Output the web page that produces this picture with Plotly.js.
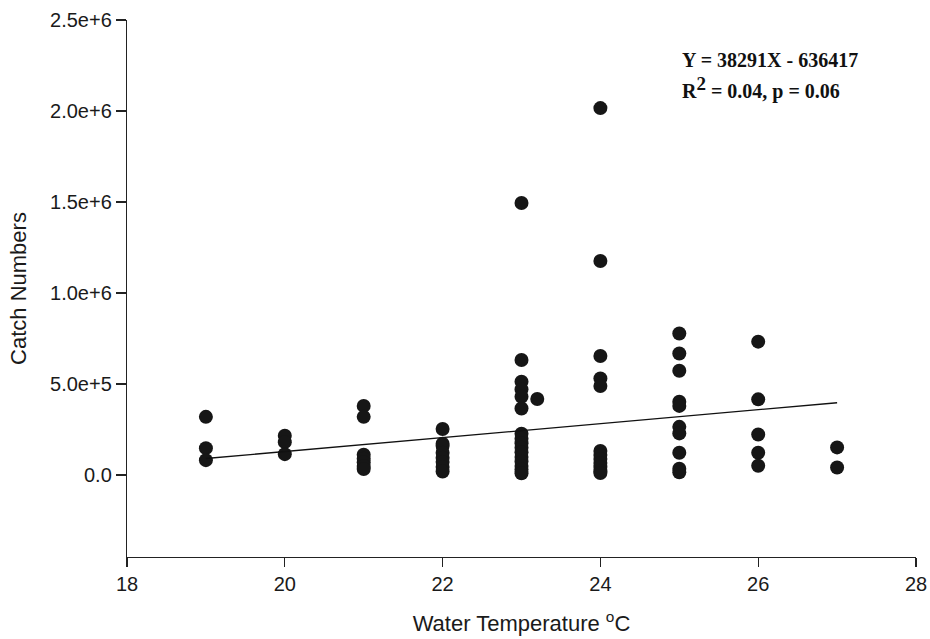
<!DOCTYPE html>
<html>
<head>
<meta charset="utf-8">
<script src="https://cdn.plot.ly/plotly-3.0.1.min.js"></script>
<style>html,body{margin:0;padding:0;background:#fff;}#chart{width:930px;height:639px;}</style>
</head>
<body>
<div id="chart"></div>
<script>
// Water temperature (°C) of each observation
const temps = [
  19, 19, 19,
  20, 20, 20,
  21, 21, 21, 21, 21, 21, 21,
  22, 22, 22, 22, 22, 22, 22, 22,
  23, 23, 23, 23, 23, 23, 23, 23, 23, 23, 23, 23, 23, 23, 23, 23,
  23.2,
  24, 24, 24, 24, 24, 24, 24, 24, 24, 24, 24, 24,
  25, 25, 25, 25, 25, 25, 25, 25, 25, 25,
  26, 26, 26, 26, 26,
  27, 27
];
// Catch numbers of each observation
const catches = [
  320000, 148000, 82000,
  216000, 181000, 115000,
  380000, 320000, 112000, 90000, 70000, 50000, 33000,
  253000, 172000, 160000, 123000, 95000, 72000, 45000, 20000,
  1495000, 632000, 513000, 470000, 430000, 366000, 227000, 200000, 175000, 150000, 125000, 100000, 75000, 50000, 30000, 10000,
  418000,
  2016000, 1176000, 654000, 531000, 489000, 132000, 110000, 88000, 66000, 44000, 22000, 11000,
  778000, 668000, 573000, 403000, 380000, 265000, 229000, 123000, 35000, 15000,
  733000, 416000, 223000, 123000, 51000,
  152000, 42000
];
// Regression fit: Y = slope * X + intercept, drawn over the observed range
const fitSlope = 38291;
const fitIntercept = -636417;
const fitX = [19, 27];
const fitY = fitX.map(x => fitSlope * x + fitIntercept);

// Axis ticks
const xTickVals = [18, 20, 22, 24, 26, 28];
const xTickText = ["18", "20", "22", "24", "26", "28"];
const yTickVals = [0, 500000, 1000000, 1500000, 2000000, 2500000];
const yTickText = ["0.0", "5.0e+5", "1.0e+6", "1.5e+6", "2.0e+6", "2.5e+6"];

const annotLines = [
  "<b>Y = 38291X - 636417</b>",
  "<b>R<sup><span style=\"font-size:19px\">2</span></sup> = 0.04, p = 0.06</b>"
];

const sansFam = "Liberation Sans, Arial, sans-serif";
const tickFont = {family: sansFam, size: 20, color: "#1a1a1a"};

const data = [
  {
    type: "scatter", mode: "markers", x: temps, y: catches,
    marker: {size: 14, color: "#161616", line: {width: 0}},
    hoverinfo: "x+y", showlegend: false
  },
  {
    type: "scatter", mode: "lines", x: fitX, y: fitY,
    line: {color: "#111", width: 1.3}, hoverinfo: "skip", showlegend: false
  }
];

const layout = {
  width: 930, height: 639,
  margin: {l: 127, r: 14, t: 20, b: 82},
  paper_bgcolor: "#fff", plot_bgcolor: "#fff",
  showlegend: false,
  xaxis: {
    range: [18, 28], tickmode: "array", tickvals: xTickVals, ticktext: xTickText,
    showgrid: false, zeroline: false, showline: true, linecolor: "#222", linewidth: 1.2,
    ticks: "outside", ticklen: 9, tickwidth: 1.2, tickcolor: "#222",
    tickfont: tickFont, automargin: false,
    title: {text: "Water Temperature <sup>o</sup>C", font: {family: sansFam, size: 22, color: "#1a1a1a"}, standoff: 21}
  },
  yaxis: {
    range: [-450000, 2500000], tickmode: "array", tickvals: yTickVals, ticktext: yTickText,
    showgrid: false, zeroline: false, showline: true, linecolor: "#222", linewidth: 1.2,
    ticks: "outside", ticklen: 10, tickwidth: 1.2, tickcolor: "#222",
    tickfont: tickFont, automargin: false,
    title: {text: "Catch Numbers", font: {family: sansFam, size: 22, color: "#1a1a1a"}, standoff: 17}
  },
  annotations: [
    {xref: "paper", yref: "paper", x: 0.701, y: 0.925, xanchor: "left", yanchor: "middle", showarrow: false,
     text: annotLines[0], font: {family: "Liberation Serif, Times New Roman, serif", size: 20, color: "#111"}},
    {xref: "paper", yref: "paper", x: 0.701, y: 0.873, xanchor: "left", yanchor: "middle", showarrow: false,
     text: annotLines[1], font: {family: "Liberation Serif, Times New Roman, serif", size: 20, color: "#111"}}
  ]
};

Plotly.newPlot("chart", data, layout, {displayModeBar: false, staticPlot: true});
</script>
</body>
</html>
